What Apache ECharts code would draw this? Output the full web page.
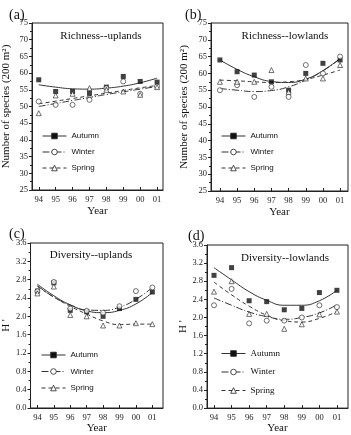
<!DOCTYPE html>
<html>
<head>
<meta charset="utf-8">
<script src="https://cdn.jsdelivr.net/npm/echarts@6/dist/echarts.min.js"></script>
<style>
html,body{margin:0;padding:0;background:#fff;}
#main{width:351px;height:435px;}
</style>
</head>
<body>
<div id="main"></div>
<script>
// x axis
var years = [94, 95, 96, 97, 98, 99, 100, 101];
var yearLabels = ['94', '95', '96', '97', '98', '99', '00', '01'];

// (a) Richness--uplands
var aAutumn = [58.0, 54.5, 54.5, 54.0, 55.8, 59.0, 57.5, 57.3];
var aWinter = [51.5, 50.5, 50.5, 52.0, 55.5, 57.5, 53.8, 56.0];
var aSpring = [48.0, 53.3, 53.8, 55.5, 55.0, 54.5, 53.5, 55.8];
var aAutumnFit = [56.5, 55.8, 55.3, 55.2, 55.5, 56.1, 57.1, 58.5];
var aWinterFit = [50.0, 50.9, 51.8, 52.7, 53.6, 54.4, 55.2, 56.0];
var aSpringFit = [50.8, 51.6, 52.4, 53.2, 54.0, 54.8, 55.6, 56.3];

// (b) Richness--lowlands
var bAutumn = [64.0, 60.5, 59.5, 57.5, 55.0, 60.0, 63.0, 64.0];
var bWinter = [55.0, 56.5, 53.0, 56.0, 53.0, 62.5, 60.0, 65.0];
var bSpring = [57.5, 57.5, 57.5, 61.0, 54.5, 58.5, 58.5, 62.5];
var bAutumnFit = [64.0, 61.2, 59.0, 57.6, 57.3, 58.3, 60.8, 64.5];
var bWinterFit = [55.5, 55.0, 54.6, 54.9, 56.0, 58.0, 60.8, 64.3];
var bSpringFit = [58.0, 57.8, 57.5, 57.3, 57.5, 58.2, 59.5, 61.0];

// (c) Diversity--uplands
var cAutumn = [2.55, 2.73, 2.13, 2.10, 2.00, 2.17, 2.37, 2.53];
var cWinter = [2.55, 2.75, 2.17, 2.12, 2.08, 2.22, 2.55, 2.63];
var cSpring = [2.50, 2.65, 2.03, 2.00, 1.80, 1.80, 1.85, 1.83];
var cAutumnFit = [2.70, 2.45, 2.25, 2.12, 2.08, 2.13, 2.27, 2.52];
var cWinterFit = [2.67, 2.42, 2.25, 2.14, 2.13, 2.20, 2.37, 2.63];
var cSpringFit = [2.65, 2.42, 2.22, 2.05, 1.90, 1.82, 1.83, 1.83];

// (d) Diversity--lowlands
var dAutumn = [2.93, 3.10, 2.37, 2.35, 2.17, 2.20, 2.55, 2.60];
var dWinter = [2.27, 2.63, 1.87, 1.93, 1.93, 2.00, 2.27, 2.23];
var dSpring = [2.57, 2.80, 2.08, 2.08, 1.75, 1.85, 2.07, 2.13];
var dAutumnFit = [3.10, 2.83, 2.57, 2.38, 2.27, 2.27, 2.37, 2.60];
var dWinterFit = [2.43, 2.27, 2.12, 2.02, 1.96, 2.00, 2.10, 2.28];
var dSpringFit = [2.78, 2.50, 2.25, 2.05, 1.93, 1.90, 1.98, 2.13];

var seasons = ['Autumn', 'Winter', 'Spring'];
var serif = 'Liberation Serif';
var sans = 'Liberation Sans';

var panels = [
    {tag:'(a)', title:'Richness--uplands', grid:{left:30, top:23, width:133, height:167},
     x:[93.6, 101.35], y:[25, 75, 5], yName:'Number of species (200 m\u00B2)', yGap:20, yDec:0,
     pts:[aAutumn, aWinter, aSpring], fit:[aAutumnFit, aWinterFit, aSpringFit],
     legend:{left:37, top:127, gap:8, font:sans}, tagPos:[4, 3], titlePos:[96, 26]},
    {tag:'(b)', title:'Richness--lowlands', grid:{left:211, top:23, width:137, height:168},
     x:[93.48, 101.46], y:[25, 75, 5], yName:'Number of species (200 m\u00B2)', yGap:21, yDec:0,
     pts:[bAutumn, bWinter, bSpring], fit:[bAutumnFit, bWinterFit, bSpringFit],
     legend:{left:216, top:127, gap:8, font:sans}, tagPos:[180, 3], titlePos:[280, 26]},
    {tag:'(c)', title:'Diversity--uplands', grid:{left:27, top:243, width:136, height:165},
     x:[93.58, 101.65], y:[0, 3.6, 0.4], yName:'H \'', yGap:15, yDec:1,
     pts:[cAutumn, cWinter, cSpring], fit:[cAutumnFit, cWinterFit, cSpringFit],
     legend:{left:36, top:346, gap:8.5, font:sans}, tagPos:[4, 222], titlePos:[86, 245]},
    {tag:'(d)', title:'Diversity--lowlands', grid:{left:207, top:245, width:141, height:164},
     x:[93.6, 101.63], y:[0, 3.6, 0.4], yName:'H \'', yGap:15, yDec:1,
     pts:[dAutumn, dWinter, dSpring], fit:[dAutumnFit, dWinterFit, dSpringFit],
     legend:{left:216, top:344, gap:9.5, font:serif}, tagPos:[183, 224], titlePos:[280, 248]}
];

// filled square, open circle, open triangle
var symbols = ['rect', 'circle', 'triangle'];
var fills = ['#111', '#fff', '#fff'];
var lineTypes = ['solid', [7, 2, 1, 2], [4, 3]];

function zip(vals){
    var out = [];
    for(var i = 0; i < years.length; i++) out.push([years[i], vals[i]]);
    return out;
}

var option = {
    backgroundColor:'#fff',
    animation:false,
    title:[], grid:[], xAxis:[], yAxis:[], legend:[], series:[]
};

panels.forEach(function(p, k){
    option.title.push({text:p.tag, left:p.tagPos[0], top:p.tagPos[1],
        textStyle:{fontFamily:serif, fontSize:14, fontWeight:'normal', color:'#111'}});
    option.title.push({text:p.title, left:p.titlePos[0], top:p.titlePos[1], textAlign:'center',
        textStyle:{fontFamily:serif, fontSize:11, fontWeight:'normal', color:'#111'}});
    option.grid.push({left:p.grid.left, top:p.grid.top, width:p.grid.width, height:p.grid.height,
        show:true, borderColor:'#222', borderWidth:1, backgroundColor:'transparent'});
    option.xAxis.push({
        type:'value', gridIndex:k, min:p.x[0], max:p.x[1],
        name:'Year', nameLocation:'middle', nameGap:k < 2 ? 16 : 14,
        nameTextStyle:{fontFamily:serif, fontSize:11, color:'#111'},
        axisLine:{lineStyle:{color:'#222'}},
        axisTick:{inside:true, length:3, customValues:years, lineStyle:{color:'#222'}},
        axisLabel:{customValues:years, fontFamily:serif, fontSize:8.5, color:'#222', margin:5,
            formatter:function(v){ return yearLabels[years.indexOf(Math.round(v))]; }},
        splitLine:{show:false}
    });
    option.yAxis.push({
        type:'value', gridIndex:k, min:p.y[0], max:p.y[1], interval:p.y[2],
        name:p.yName, nameLocation:'middle', nameGap:p.yGap,
        nameTextStyle:{fontFamily:serif, fontSize:11, color:'#111'},
        axisLine:{lineStyle:{color:'#222'}},
        axisTick:{length:3, lineStyle:{color:'#222'}},
        minorTick:{show:true, splitNumber:2, length:2, lineStyle:{color:'#222'}},
        axisLabel:{fontFamily:serif, fontSize:8.5, color:'#222', margin:4,
            formatter:function(v){ return v.toFixed(p.yDec); }},
        splitLine:{show:false}
    });
    option.legend.push({
        orient:'vertical', left:p.legend.left, top:p.legend.top, itemGap:p.legend.gap,
        itemWidth:24, itemHeight:7, selectedMode:false, data:seasons,
        itemStyle:{borderWidth:0.8},
        lineStyle:{width:1},
        textStyle:{fontFamily:p.legend.font, fontSize:p.legend.font == serif ? 9 : 8, color:'#111'}
    });
    seasons.forEach(function(s, i){
        // fitted curve (carries the legend name)
        option.series.push({
            name:s, type:'line', xAxisIndex:k, yAxisIndex:k,
            data:zip(p.fit[i]), smooth:true, symbol:symbols[i], symbolSize:5, showSymbol:false,
            lineStyle:{color:'#333', width:1, type:lineTypes[i]},
            itemStyle:{color:fills[i], borderColor:'#222', borderWidth:i == 0 ? 0 : 0.8}, z:2
        });
        // observed values
        option.series.push({
            name:s + ' obs', type:'scatter', xAxisIndex:k, yAxisIndex:k,
            data:zip(p.pts[i]), symbol:symbols[i], symbolSize:5,
            itemStyle:{color:fills[i], borderColor:'#222', borderWidth:i == 0 ? 0 : 0.8}, z:3
        });
    });
});

var chart = echarts.init(document.getElementById('main'));
chart.setOption(option);
</script>
</body>
</html>
